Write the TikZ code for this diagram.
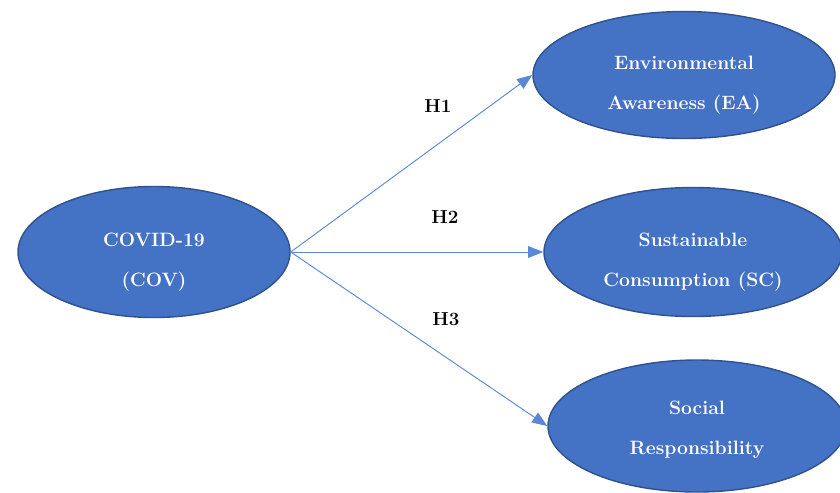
\documentclass[tikz,border=0pt]{standalone}
\usetikzlibrary{shapes.geometric,arrows.meta}
\definecolor{ovalblue}{HTML}{4472C4}
\definecolor{ovaledge}{HTML}{2F528F}
\definecolor{arrowblue}{HTML}{5B87D6}

\begin{document}
\begin{tikzpicture}[x=0.03cm, y=-0.03cm,
    construct/.style={ellipse, draw=ovaledge, fill=ovalblue, line width=1.2pt,
        inner sep=0pt},
    caption/.style={text=white, align=center, yshift=-9pt,
        font=\bfseries\fontsize{16.5}{34}\selectfont},
    path/.style={draw=arrowblue, line width=0.8pt, -{Triangle[length=13pt, width=10pt]}},
    hyp/.style={font=\bfseries\fontsize{16}{18}\selectfont}]
    \clip (0,0) rectangle (840,492);

    % Constructs
    \node[construct, minimum width=272*0.03cm, minimum height=131*0.03cm,
        label={[caption]center:COVID-19\\(COV)}] (cov) at (154,252) {};
    \node[construct, minimum width=302*0.03cm, minimum height=127*0.03cm,
        label={[caption]center:Environmental\\Awareness (EA)}] (ea) at (684,75) {};
    \node[construct, minimum width=298*0.03cm, minimum height=129*0.03cm,
        label={[caption]center:Sustainable\\Consumption (SC)}] (sc) at (693,252) {};
    \node[construct, minimum width=298*0.03cm, minimum height=132*0.03cm,
        label={[caption, yshift=6pt]center:Social\\Responsibility}] (sr) at (697,426) {};

    % Hypotheses
    \draw[path] (cov.east) -- (ea.west);
    \draw[path] (cov.east) -- (sc.west);
    \draw[path] (cov.east) -- (sr.west);
    \node[hyp] (h1) at (438,106) {H1};
    \node[hyp] (h2) at (445,217) {H2};
    \node[hyp] (h3) at (446,319) {H3};
\end{tikzpicture}
\end{document}
